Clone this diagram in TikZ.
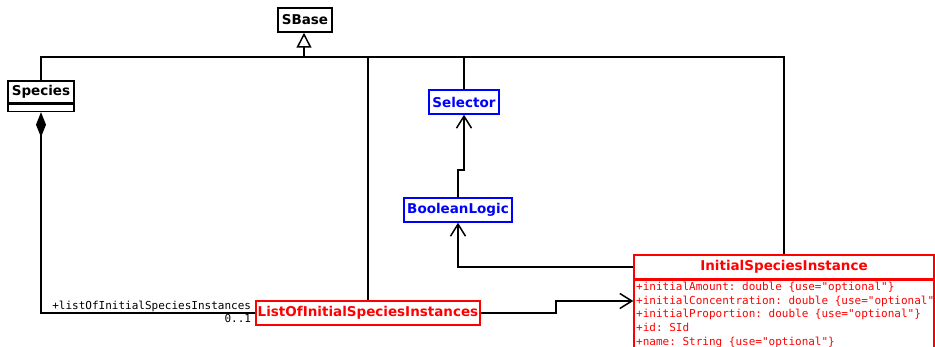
\documentclass[tikz,border=0pt]{standalone}
\usepackage{fontspec}
\setmainfont{DejaVu Sans}
\setmonofont{DejaVu Sans Mono}
\usetikzlibrary{arrows.meta, positioning}

\begin{document}
\begin{tikzpicture}[x=1pt, y=-1pt,
  cls/.style={draw, line width=1.5pt, font=\fontsize{13.5}{16}\selectfont\bfseries, inner sep=0pt, minimum height=24pt},
  blk/.style={cls, draw=black, text=black},
  blu/.style={cls, draw=blue, text=blue},
  rd/.style={cls, draw=red, text=red},
  link/.style={line width=1.5pt},
  gen/.style={link, -{Triangle[open, length=15pt, width=15pt]}},
  assoc/.style={link, -{Straight Barb[length=12pt, width=15pt]}},
  comp/.style={link, -{Diamond[length=25pt, width=10pt]}},
  lbl/.style={font=\fontsize{11}{13.6}\selectfont\ttfamily, inner sep=1pt}]
  \clip (0,0) rectangle (935,347);
  \fill[white] (0,0) rectangle (935,347);

  % classes
  \node[blk, minimum width=54pt] (sbase) at (305,20) {SBase};
  \node[blk, minimum width=66pt, minimum height=22pt] (species) at (41,92) {Species};
  \node[blk, minimum width=66pt, minimum height=7pt, below=0pt of species] (speciesbody) {};
  \node[blu, minimum width=70pt] (selector) at (464,102) {Selector};
  \node[blu, minimum width=108pt] (boolean) at (458,210) {BooleanLogic};
  \node[rd, minimum width=224pt] (listof) at (368,313) {ListOfInitialSpeciesInstances};
  \node[rd, minimum width=300pt] (isi) at (784,267) {InitialSpeciesInstance};
  \node[rd, minimum width=300pt, minimum height=80pt, below=0pt of isi] (isibody) {};
  \node[lbl, text=red, anchor=north west, align=left] (isiattr) at (635,281) {+initialAmount: double \{use="optional"\}\\
    +initialConcentration: double \{use="optional"\}\\
    +initialProportion: double \{use="optional"\}\\
    +id: SId\\
    +name: String \{use="optional"\}};

  % inheritance
  \coordinate (hub) at (304,57);
  \draw[gen] (hub) -- (sbase.south -| hub);
  \draw[link] (species.north) |- (hub);
  \draw[link] (listof.north) |- (hub);
  \draw[link] (selector.north) |- (hub);
  \draw[link] (isi.north) |- (hub);

  % associations
  \draw[assoc] (boolean.north) -- ++(0,-27) -| (selector.south);
  \draw[assoc] (isi.west) -| (boolean.south);
  \coordinate (bend) at (556,313);
  \draw[assoc] (listof.east) -- (bend) |- (isibody.west |- 0,301);
  \draw[comp] (listof.west) -| (speciesbody.south);
  \node[lbl, above left=0pt and 3pt of listof.west] (role) {+listOfInitialSpeciesInstances};
  \node[lbl, below left=0pt and 3pt of listof.west] (mult) {0..1};
\end{tikzpicture}
\end{document}
